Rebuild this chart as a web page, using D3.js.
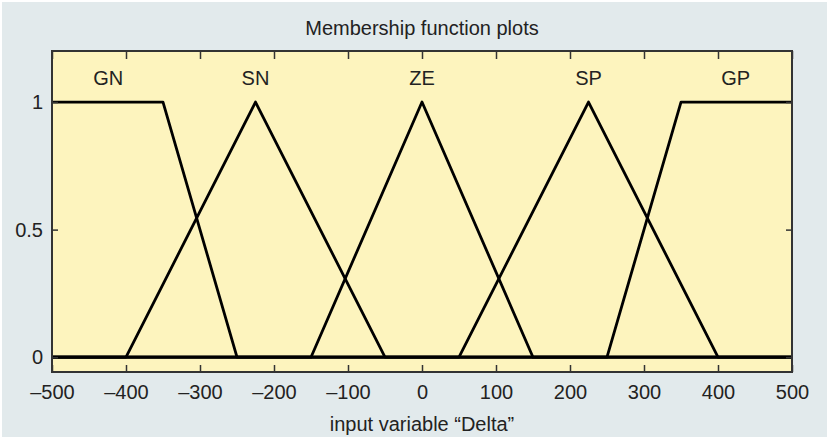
<!DOCTYPE html>
<html>
<head>
<meta charset="utf-8">
<script src="https://cdn.jsdelivr.net/npm/d3@7"></script>
<style>
  body { margin: 0; background: #fff; }
  text { font-family: "Liberation Sans", Arial, sans-serif; fill: #222; }
</style>
</head>
<body>
<div id="chart"></div>
<script>
// membership functions (trapezoid params a, b, c, d)
var mfNames = ["GN", "SN", "ZE", "SP", "GP"];
var mfParams = [
    [-500, -500, -350, -250],
    [-400, -225, -225, -50],
    [-150, 0, 0, 150],
    [50, 225, 225, 400],
    [250, 350, 500, 500]
];
var labelX = [-424, -225, 0, 225, 424];
var xTicks = [-500, -400, -300, -200, -100, 0, 100, 200, 300, 400, 500];
var yTicks = [0, 0.5, 1];

var W = 827, H = 437;
var margin = { top: 51, right: 35, bottom: 65, left: 52 },
    width = W - margin.left - margin.right,
    height = H - margin.top - margin.bottom;

var root = d3.select("#chart")
    .append("svg")
    .attr("width", W)
    .attr("height", H);

root.append("rect")
    .attr("x", 2).attr("y", 2)
    .attr("width", W - 2).attr("height", H - 2)
    .attr("fill", "#e2eaec");

var svg = root.append("g")
    .attr("transform", "translate(" + margin.left + "," + margin.top + ")");

var x = d3.scaleLinear().domain([-500, 500]).range([0, width]);
var y = d3.scaleLinear().domain([-0.058, 1.2]).range([height, 0]);

svg.append("rect")
    .attr("width", width)
    .attr("height", height)
    .attr("fill", "#fdf4be");

function trapmf(v, p) {
    var a = p[0], b = p[1], c = p[2], d = p[3];
    if (v < a || v > d) return 0;
    if (v >= b && v <= c) return 1;
    if (v < b) return (v - a) / (b - a);
    return (d - v) / (d - c);
}

var line = d3.line()
    .x(function (d) { return x(d[0]); })
    .y(function (d) { return y(d[1]); });

mfParams.forEach(function (p) {
    var xs = [-500].concat(p, [500]);
    var pts = xs.map(function (v) { return [v, trapmf(v, p)]; });
    svg.append("path")
        .attr("d", line(pts))
        .attr("fill", "none")
        .attr("stroke", "#000")
        .attr("stroke-width", 2.8)
        .attr("stroke-linejoin", "round");
});

svg.selectAll(".mflabel")
    .data(mfNames)
    .enter().append("text")
    .attr("class", "mflabel")
    .attr("x", function (d, i) { return x(labelX[i]); })
    .attr("y", 34)
    .attr("text-anchor", "middle")
    .style("font-size", "20px")
    .text(function (d) { return d; });

function fmt(d) { return d < 0 ? "\u2013" + Math.abs(d) : d; }

var gx = svg.append("g")
    .attr("transform", "translate(0," + height + ")")
    .call(d3.axisBottom(x).tickValues(xTicks).tickFormat(fmt)
        .tickSizeInner(-7).tickSizeOuter(0).tickPadding(13));

var gxt = svg.append("g")
    .call(d3.axisTop(x).tickValues(xTicks).tickFormat("")
        .tickSizeInner(-8).tickSizeOuter(0));

var gy = svg.append("g")
    .call(d3.axisLeft(y).tickValues(yTicks).tickFormat(d3.format("~g"))
        .tickSizeInner(-6).tickSizeOuter(0).tickPadding(9));

var gyr = svg.append("g")
    .attr("transform", "translate(" + width + ",0)")
    .call(d3.axisRight(y).tickValues(yTicks).tickFormat("")
        .tickSizeInner(-6).tickSizeOuter(0));

[gx, gxt, gy, gyr].forEach(function (g) {
    g.select(".domain").remove();
    g.selectAll(".tick line").attr("stroke", "#333").attr("stroke-width", 1.5);
    g.selectAll(".tick text")
        .style("font-family", "'Liberation Sans', Arial, sans-serif")
        .style("font-size", "20px")
        .attr("fill", "#222");
});

svg.append("rect")
    .attr("width", width)
    .attr("height", height)
    .attr("fill", "none")
    .attr("stroke", "#333")
    .attr("stroke-width", 2);

root.append("text")
    .attr("x", margin.left + width / 2)
    .attr("y", 35)
    .attr("text-anchor", "middle")
    .style("font-size", "20px")
    .text("Membership function plots");

root.append("text")
    .attr("x", margin.left + width / 2)
    .attr("y", 431)
    .attr("text-anchor", "middle")
    .style("font-size", "20px")
    .text("input variable \u201cDelta\u201d");
</script>
</body>
</html>
